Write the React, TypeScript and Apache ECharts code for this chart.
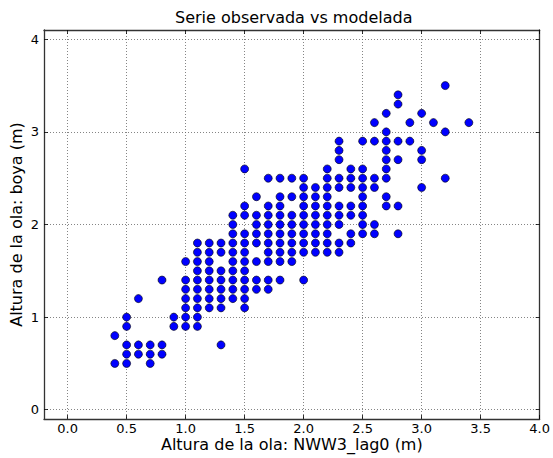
import React, { useEffect, useRef } from "react";
import * as echarts from "echarts";

const chartTitle = "Serie observada vs modelada";
const xName = "Altura de la ola: NWW3_lag0 (m)";
const yName = "Altura de la ola: boya (m)";
const xTicks = [0, 0.5, 1.0, 1.5, 2.0, 2.5, 3.0, 3.5, 4.0];
const yTicks = [0, 1, 2, 3, 4];

// observed (boya) values, one row per y level
const rowY = [
  0.5, 0.6, 0.7, 0.8, 0.9, 1.0, 1.1, 1.2, 1.3, 1.4, 1.5, 1.6, 1.7, 1.8, 1.9, 2.0,
  2.1, 2.2, 2.3, 2.4, 2.5, 2.6, 2.7, 2.8, 2.9, 3.0, 3.1, 3.2, 3.3, 3.4, 3.5,
];
// modelled (NWW3) values found at each y level
const rowX = [
  [0.4, 0.5, 0.7],
  [0.5, 0.6, 0.7, 0.8],
  [0.5, 0.6, 0.7, 0.8, 1.3],
  [0.4],
  [0.5, 0.9, 1.0, 1.1],
  [0.5, 0.9, 1.0, 1.1],
  [1.0, 1.1, 1.2, 1.3, 1.5],
  [0.6, 1.0, 1.1, 1.2, 1.3, 1.4, 1.5],
  [1.0, 1.1, 1.2, 1.3, 1.4, 1.5, 1.6, 1.7],
  [0.8, 1.0, 1.1, 1.2, 1.3, 1.4, 1.5, 1.6, 1.7, 1.8, 2.0],
  [1.1, 1.2, 1.3, 1.4, 1.5],
  [1.0, 1.1, 1.2, 1.4, 1.5, 1.6, 1.7, 1.8, 1.9],
  [1.1, 1.2, 1.3, 1.4, 1.5, 1.7, 1.8, 1.9, 2.0, 2.1, 2.2, 2.3],
  [1.1, 1.2, 1.3, 1.4, 1.5, 1.6, 1.7, 1.8, 1.9, 2.0, 2.1, 2.2, 2.3, 2.4],
  [1.4, 1.5, 1.6, 1.7, 1.8, 1.9, 2.0, 2.1, 2.2, 2.4, 2.5, 2.6, 2.8],
  [1.4, 1.6, 1.7, 1.8, 1.9, 2.0, 2.1, 2.2, 2.3, 2.5, 2.6],
  [1.4, 1.5, 1.6, 1.7, 1.8, 1.9, 2.0, 2.1, 2.2, 2.3, 2.4, 2.5],
  [1.5, 1.7, 1.8, 2.0, 2.1, 2.2, 2.3, 2.4, 2.5, 2.7, 2.8],
  [1.6, 1.8, 1.9, 2.0, 2.1, 2.2, 2.5, 2.7],
  [2.0, 2.1, 2.2, 2.3, 2.4, 2.5, 2.6, 3.0],
  [1.7, 1.8, 1.9, 2.0, 2.2, 2.3, 2.4, 2.5, 2.6, 2.7, 3.2],
  [1.5, 2.2, 2.4, 2.5, 2.7],
  [2.3, 2.7, 2.8, 3.0],
  [2.3, 2.7, 3.0],
  [2.3, 2.5, 2.6, 2.7, 2.8, 2.9],
  [2.7, 3.2],
  [2.6, 2.9, 3.1, 3.4],
  [2.7, 3.0],
  [2.8],
  [2.8],
  [3.2],
];

const FONT = "DejaVu Sans";

export default function App() {
  const ref = useRef<HTMLDivElement>(null);

  useEffect(() => {
    if (!ref.current) return;
    const chart = echarts.init(ref.current, null, { renderer: "svg" });
    const points: number[][] = [];
    rowY.forEach((y, i) => rowX[i].forEach((x) => points.push([x, y])));

    const frame = { show: true, onZero: false, lineStyle: { color: "#333", width: 1.3 } };
    const tickStyle = { color: "#000", width: 0.8 };
    const grid = { show: true, lineStyle: { color: "#666", width: 0.8, type: [1, 2] } };

    chart.setOption({
      animation: false,
      backgroundColor: "#fff",
      title: {
        text: chartTitle,
        left: 175,
        top: 9,
        padding: 0,
        textStyle: { fontFamily: FONT, fontSize: 16, fontWeight: "normal", color: "#000" },
      },
      grid: { left: 44, right: 10, top: 30, bottom: 39, containLabel: false },
      xAxis: [
        {
          type: "value",
          position: "bottom",
          min: -0.2,
          max: 4.0,
          axisLine: frame,
          axisTick: { show: true, inside: true, length: 4, customValues: xTicks, lineStyle: tickStyle },
          axisLabel: {
            customValues: xTicks,
            formatter: (v: number) => v.toFixed(1),
            margin: 3,
            color: "#000",
            fontFamily: FONT,
            fontSize: 13,
            lineHeight: 13,
          },
          splitLine: grid,
          name: xName,
          nameLocation: "middle",
          nameGap: 17,
          nameMoveOverlap: false,
          nameTextStyle: { fontFamily: FONT, fontSize: 16, color: "#000", lineHeight: 16 },
        },
        {
          type: "value",
          position: "top",
          min: -0.2,
          max: 4.0,
          axisLine: frame,
          axisTick: { show: true, inside: true, length: 4, customValues: xTicks, lineStyle: tickStyle },
          axisLabel: { show: false },
          splitLine: { show: false },
        },
      ],
      yAxis: [
        {
          type: "value",
          position: "left",
          min: -0.1,
          max: 4.1,
          axisLine: frame,
          axisTick: { show: true, inside: true, length: 4, customValues: yTicks, lineStyle: tickStyle },
          axisLabel: {
            customValues: yTicks,
            formatter: (v: number) => String(Math.round(v)),
            margin: 5,
            color: "#000",
            fontFamily: FONT,
            fontSize: 13,
          },
          splitLine: grid,
          name: yName,
          nameLocation: "middle",
          nameGap: 20,
          nameMoveOverlap: false,
          nameTextStyle: { fontFamily: FONT, fontSize: 16, color: "#000" },
        },
        {
          type: "value",
          position: "right",
          min: -0.1,
          max: 4.1,
          axisLine: frame,
          axisTick: { show: true, inside: true, length: 4, customValues: yTicks, lineStyle: tickStyle },
          axisLabel: { show: false },
          splitLine: { show: false },
        },
      ],
      series: [
        {
          type: "scatter",
          xAxisIndex: 0,
          yAxisIndex: 0,
          data: points,
          symbol: "circle",
          symbolSize: 8,
          itemStyle: { color: "#0000ff", borderColor: "#000", borderWidth: 0.6, opacity: 1 },
          z: 5,
        },
      ],
    });
    return () => chart.dispose();
  }, []);

  return (
    <div
      ref={ref}
      style={{ position: "absolute", left: 0, top: 0, width: 553, height: 458, background: "#fff" }}
    />
  );
}
